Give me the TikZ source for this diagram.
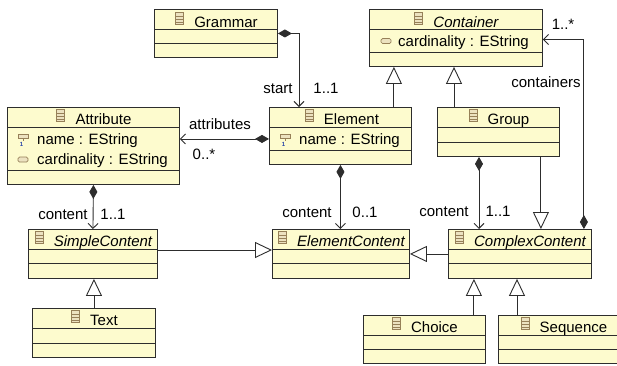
\documentclass[tikz,border=0pt]{standalone}
\usepackage{fontspec}
\setmainfont{Liberation Sans}
\usepackage{tikz}
\usetikzlibrary{arrows.meta}
\usetikzlibrary{calc}

\definecolor{boxfill}{RGB}{253,251,206}
\definecolor{boxline}{RGB}{45,45,45}
\definecolor{iconline}{RGB}{150,128,88}
\definecolor{iconfill}{RGB}{236,226,192}
\definecolor{idblue}{RGB}{40,70,170}

\tikzset{
  classbox/.style={draw=boxline, fill=boxfill, line width=0.9pt, anchor=north west, inner sep=0pt},
  lbl/.style={font=\fontsize{15}{18}\selectfont, anchor=base, inner sep=0pt},
  ilbl/.style={lbl, font=\fontsize{15}{18}\selectfont\itshape},
  albl/.style={lbl, anchor=base west},
  assoc/.style={draw=boxline, line width=0.9pt, {Diamond[length=14pt,width=8pt]}-{Straight Barb[length=5pt,width=10pt]}},
  gen/.style={draw=boxline, line width=0.9pt, -{Triangle[open,length=17pt,width=16pt,fill=white]}},
  clsicon/.pic={
    \draw[draw=iconline, fill=iconfill, line width=0.7pt] (-4,-6) rectangle (4,6);
    \draw[draw=iconline, line width=0.7pt] (-4,-2) -- (4,-2) (-4,1.5) -- (4,1.5) (-4,4) -- (4,4);
  },
  idicon/.pic={
    \draw[draw=iconline, fill=iconfill, line width=0.7pt] (-5,-2) rectangle (5,2);
    \draw[draw=iconline, line width=0.7pt] (0,2) -- (0,4.5);
    \node[text=idblue, font=\fontsize{6}{6}\selectfont\bfseries, inner sep=0pt] at (-1.5,8) {1};
  },
  atticon/.pic={
    \draw[draw=iconline, fill=iconfill, line width=0.7pt, rounded corners=1.5pt] (-5,-2.5) rectangle (5,2.5);
  },
}

% compartment lines of a class box
\newcommand{\compartments}[3]{%
  \draw[draw=boxline, line width=0.9pt] ($(#1.north west)+(0,#2)$) -- ($(#1.north east)+(0,#2)$);
  \draw[draw=boxline, line width=0.9pt] ($(#1.north west)+(0,#3)$) -- ($(#1.north east)+(0,#3)$);
}

\begin{document}
\begin{tikzpicture}[x=1pt,y=-1pt]
  \useasboundingbox (0,0) rectangle (617,365);
  \clip (0,0) rectangle (617,365);

  % classes
  \node[classbox, minimum width=123pt, minimum height=48pt] (grammar) at (154,9) {};
  \compartments{grammar}{20}{34}
  \node[lbl] (grammar-t) at ($(grammar.north)+(10,18)$) {Grammar};
  \pic at ($(grammar-t.base west)+(-14.5,-9)$) {clsicon};

  \node[classbox, minimum width=173pt, minimum height=57pt] (container) at (369,9) {};
  \compartments{container}{20}{43}
  \node[ilbl] (container-t) at ($(container.north)+(10,18)$) {Container};
  \pic at ($(container-t.base west)+(-14.5,-9)$) {clsicon};
  \node[albl] (container-a1) at ($(container.north west)+(29,37)$) {cardinality : EString};
  \pic at ($(container.north west)+(17,32)$) {atticon};

  \node[classbox, minimum width=172pt, minimum height=77pt] (attribute) at (7,107) {};
  \compartments{attribute}{20}{63}
  \node[lbl] (attribute-t) at ($(attribute.north)+(10,17)$) {Attribute};
  \pic at ($(attribute-t.base west)+(-14.5,-9)$) {clsicon};
  \node[albl] (attribute-a1) at ($(attribute.north west)+(30,37)$) {name : EString};
  \pic at ($(attribute.north west)+(16,29)$) {idicon};
  \node[albl] (attribute-a2) at ($(attribute.north west)+(30,57)$) {cardinality : EString};
  \pic at ($(attribute.north west)+(16,52.5)$) {atticon};

  \node[classbox, minimum width=142pt, minimum height=57pt] (element) at (269,107) {};
  \compartments{element}{20}{43}
  \node[lbl] (element-t) at ($(element.north)+(11,17)$) {Element};
  \pic at ($(element-t.base west)+(-14.5,-9)$) {clsicon};
  \node[albl] (element-a1) at ($(element.north west)+(30,37)$) {name : EString};
  \pic at ($(element.north west)+(16,29)$) {idicon};

  \node[classbox, minimum width=122pt, minimum height=49pt] (group) at (437,107) {};
  \compartments{group}{20}{35}
  \node[lbl] (group-t) at ($(group.north)+(10,17)$) {Group};
  \pic at ($(group-t.base west)+(-14.5,-9)$) {clsicon};

  \node[classbox, minimum width=129pt, minimum height=49pt] (simplecontent) at (28,229) {};
  \compartments{simplecontent}{20}{34}
  \node[ilbl] (simplecontent-t) at ($(simplecontent.north)+(10,17)$) {SimpleContent};
  \pic at ($(simplecontent-t.base west)+(-14.5,-9)$) {clsicon};

  \node[classbox, minimum width=137pt, minimum height=49pt] (elementcontent) at (272,229) {};
  \compartments{elementcontent}{20}{34}
  \node[ilbl] (elementcontent-t) at ($(elementcontent.north)+(10,17)$) {ElementContent};
  \pic at ($(elementcontent-t.base west)+(-14.5,-9)$) {clsicon};

  \node[classbox, minimum width=143pt, minimum height=49pt] (complexcontent) at (448,229) {};
  \compartments{complexcontent}{20}{34}
  \node[ilbl] (complexcontent-t) at ($(complexcontent.north)+(10,17)$) {ComplexContent};
  \pic at ($(complexcontent-t.base west)+(-14.5,-9)$) {clsicon};

  \node[classbox, minimum width=123pt, minimum height=49pt] (text) at (32,308) {};
  \compartments{text}{20}{35}
  \node[lbl] (text-t) at ($(text.north)+(10,17)$) {Text};
  \pic at ($(text-t.base west)+(-14.5,-9)$) {clsicon};

  \node[classbox, minimum width=122pt, minimum height=48pt] (choice) at (363,315) {};
  \compartments{choice}{20}{34}
  \node[lbl] (choice-t) at ($(choice.north)+(10,17)$) {Choice};
  \pic at ($(choice-t.base west)+(-14.5,-9)$) {clsicon};

  \node[classbox, minimum width=130pt, minimum height=48pt] (sequence) at (498,315) {};
  \compartments{sequence}{20}{34}
  \node[lbl] (sequence-t) at ($(sequence.north)+(10,17)$) {Sequence};
  \pic at ($(sequence-t.base west)+(-14.5,-9)$) {clsicon};

  % containments
  \draw[assoc] (grammar.east) -| ([xshift=30pt]element.north west);
  \draw[assoc] ([yshift=-3pt]element.west) -- ([yshift=-3pt]element.west -| attribute.east);
  \draw[assoc] (attribute.south) -- (simplecontent.north);
  \draw[assoc] (element.south) -- (element.south |- elementcontent.north);
  \draw[assoc] ([xshift=42pt]group.south west) -- ([xshift=42pt]group.south west |- complexcontent.north);
  \draw[assoc] ([xshift=-8pt]complexcontent.north east) |- ([yshift=-1.5pt]container.east);

  % inheritance
  \draw[gen] ([xshift=-18pt]element.north east) -- ([xshift=-18pt]element.north east |- container.south);
  \draw[gen] ([xshift=17pt]group.north west) -- ([xshift=17pt]group.north west |- container.south);
  \draw[gen] ([xshift=-19pt]group.south east) -- ([xshift=-19pt]group.south east |- complexcontent.north);
  \draw[gen] ([yshift=-21pt]simplecontent.north east) -- ([yshift=-21pt]simplecontent.north east -| elementcontent.west);
  \draw[gen] (complexcontent.west) -- (complexcontent.west -| elementcontent.east);
  \draw[gen] (text.north) -- (text.north |- simplecontent.south);
  \draw[gen] ([xshift=-12pt]choice.north east) -- ([xshift=-12pt]choice.north east |- complexcontent.south);
  \draw[gen] ([xshift=19pt]sequence.north west) -- ([xshift=19pt]sequence.north west |- complexcontent.south);

  % role names and multiplicities
  \node[lbl] (l-start) at (278,93) {start};
  \node[lbl] (l-start-m) at (326,93) {1..1};
  \node[lbl] (l-attributes) at (220,129) {attributes};
  \node[lbl] (l-attributes-m) at (204,159) {0..*};
  \node[lbl] (l-content1) at (63,219) {content};
  \node[lbl] (l-content1-m) at (113,219) {1..1};
  \node[lbl] (l-content2) at (307,217) {content};
  \node[lbl] (l-content2-m) at (365,217) {0..1};
  \node[lbl] (l-content3) at (444,216) {content};
  \node[lbl] (l-content3-m) at (498,216) {1..1};
  \node[lbl] (l-containers-m) at (563,29) {1..*};
  \node[lbl] (l-containers) at (546,87) {containers};
\end{tikzpicture}
\end{document}
